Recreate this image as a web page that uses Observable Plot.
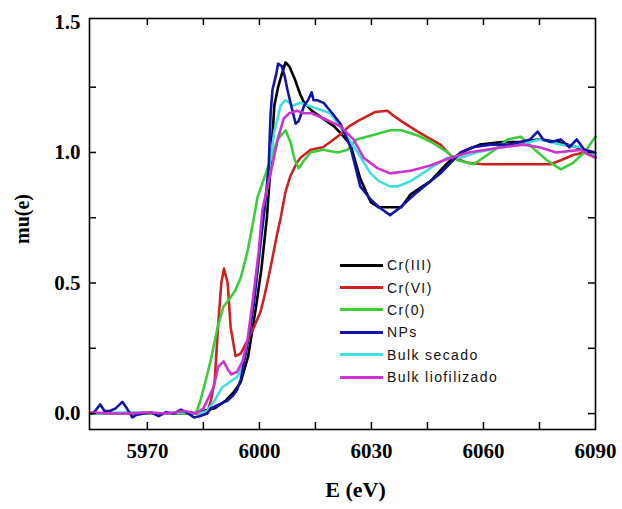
<!DOCTYPE html>
<html>
<head>
<meta charset="utf-8">
<script src="https://cdn.jsdelivr.net/npm/d3@7"></script>
<script src="https://cdn.jsdelivr.net/npm/@observablehq/plot@0.6"></script>
<style>
  html, body { margin: 0; padding: 0; background: #fff; }
  #wrap { position: relative; width: 622px; height: 509px; }
  #legend { position: absolute; left: 340px; top: 254px; font-family: "Liberation Sans", Arial, sans-serif; font-size: 14px; letter-spacing: 1.4px; color: #111; }
  #legend .row { height: 22.4px; display: flex; align-items: center; }
  #legend .sw { width: 43px; height: 3px; margin-right: 4px; }
</style>
</head>
<body>
<div id="wrap"><div id="legend"></div></div>
<script>
// ---- data ----
const seriesNames = ["Cr(III)", "Cr(VI)", "Cr(0)", "NPs", "Bulk secado", "Bulk liofilizado"];
const seriesColors = ["#000000", "#cc2222", "#3ccc3c", "#1414a8", "#40dede", "#cc33cc"];

const crIII_E  = [5955, 5965, 5975, 5982, 5985, 5988, 5991, 5993, 5995, 5997, 5999, 6000.5, 6002, 6003, 6004, 6005, 6006, 6007, 6008, 6009.5, 6011, 6012, 6014, 6017, 6020, 6022, 6024.4, 6027, 6029.8, 6032, 6038, 6040.5, 6045.8, 6050.4, 6054, 6059, 6065, 6070, 6075, 6080, 6085, 6090];
const crIII_mu = [0.0, 0.0, 0.0, 0.0, 0.01, 0.02, 0.05, 0.08, 0.12, 0.22, 0.4, 0.55, 0.75, 0.95, 1.18, 1.25, 1.3, 1.345, 1.33, 1.28, 1.22, 1.19, 1.16, 1.13, 1.1, 1.07, 1.03, 0.9, 0.81, 0.79, 0.79, 0.84, 0.89, 0.96, 1.0, 1.03, 1.04, 1.04, 1.05, 1.04, 1.02, 0.98];

const crVI_E  = [5955, 5970, 5980, 5986, 5987, 5988, 5989, 5989.8, 5990.5, 5991.5, 5992.3, 5993.6, 5995, 5996.8, 5998.5, 6000.3, 6001.5, 6003, 6004.5, 6005.7, 6007, 6008.3, 6010, 6011, 6013.7, 6017, 6019, 6021.7, 6024, 6026.3, 6029, 6031, 6034.3, 6036, 6038, 6042.4, 6046, 6048.5, 6050.4, 6052, 6055.8, 6060, 6070, 6078, 6080.7, 6084, 6087, 6090];
const crVI_mu = [0.0, 0.0, 0.0, 0.0, 0.05, 0.12, 0.35, 0.5, 0.555, 0.5, 0.33, 0.22, 0.23, 0.28, 0.33, 0.39, 0.46, 0.56, 0.67, 0.75, 0.85, 0.91, 0.96, 0.98, 1.01, 1.02, 1.04, 1.07, 1.1, 1.12, 1.14, 1.155, 1.16, 1.14, 1.12, 1.08, 1.05, 1.03, 1.0, 0.98, 0.96, 0.955, 0.955, 0.955, 0.97, 0.99, 1.0, 0.98];

const cr0_E  = [5955, 5970, 5980, 5983, 5984.2, 5985.5, 5986.9, 5988.8, 5990.4, 5992, 5993.5, 5995, 5996.8, 5998.4, 5999.5, 6001, 6002.2, 6004.9, 6007, 6008.3, 6009.5, 6010.5, 6012, 6013.7, 6017, 6021, 6023.6, 6026, 6030, 6035, 6038, 6042.4, 6046, 6050.4, 6053, 6057.4, 6062, 6066.5, 6070, 6073, 6077, 6080.7, 6084, 6087, 6090];
const cr0_mu = [0.0, 0.0, 0.0, 0.0, 0.05, 0.12, 0.2, 0.33, 0.41, 0.44, 0.47, 0.52, 0.62, 0.74, 0.83, 0.89, 0.94, 1.05, 1.085, 1.04, 0.97, 0.94, 0.97, 1.0, 1.01, 1.0, 1.01, 1.05, 1.065, 1.085, 1.085, 1.065, 1.04, 1.0, 0.97, 0.955, 1.0, 1.05, 1.06, 1.02, 0.97, 0.935, 0.96, 1.0, 1.06];

const nps_E  = [5955, 5956, 5957.4, 5958.5, 5960, 5961.5, 5963.3, 5964.5, 5966, 5967, 5969, 5971, 5973, 5975, 5977, 5979, 5981, 5982.5, 5984, 5986, 5987, 5988.5, 5990, 5991.5, 5993, 5994, 5995, 5997, 5998.5, 6000, 6001.5, 6002.5, 6003, 6003.5, 6004.5, 6005, 6006, 6006.8, 6007.5, 6008.5, 6009.7, 6010.5, 6012, 6013, 6014, 6014.5, 6015.5, 6017.2, 6019.5, 6021.7, 6024.4, 6027, 6029.8, 6032, 6035, 6037.8, 6040, 6042.4, 6045, 6048.5, 6051.2, 6053.9, 6057, 6062, 6067, 6070, 6072.5, 6074.5, 6076, 6078, 6080.7, 6083, 6085, 6087, 6090];
const nps_mu = [0.0, 0.01, 0.035, 0.01, 0.01, 0.02, 0.045, 0.02, -0.015, -0.005, 0.0, 0.005, -0.01, 0.005, 0.0, 0.015, 0.0, -0.015, -0.01, 0.0, 0.02, 0.03, 0.04, 0.05, 0.07, 0.09, 0.13, 0.28, 0.42, 0.62, 0.8, 0.95, 1.15, 1.24, 1.3, 1.34, 1.33, 1.29, 1.24, 1.18, 1.11, 1.12, 1.18, 1.2, 1.23, 1.2, 1.2, 1.19, 1.15, 1.11, 1.02, 0.87, 0.82, 0.79, 0.76, 0.79, 0.82, 0.85, 0.88, 0.92, 0.96, 1.0, 1.02, 1.03, 1.03, 1.04, 1.05, 1.08, 1.05, 1.04, 1.05, 1.02, 1.05, 1.01, 1.0];

const secado_E  = [5955, 5965, 5975, 5980, 5984, 5986, 5988, 5990, 5992, 5994, 5995.5, 5997, 5998.5, 6000, 6001.5, 6003, 6004, 6005.7, 6007, 6009, 6011, 6013, 6015, 6019, 6022.5, 6026.3, 6029.8, 6032, 6035, 6037, 6040.5, 6045.8, 6050.4, 6054, 6058, 6065, 6070, 6075, 6078, 6080.7, 6086, 6090];
const secado_mu = [0.0, 0.005, 0.0, 0.005, 0.0, 0.01, 0.05, 0.1, 0.12, 0.14, 0.18, 0.28, 0.42, 0.6, 0.8, 0.98, 1.08, 1.18, 1.2, 1.18, 1.19, 1.18, 1.17, 1.15, 1.08, 1.0, 0.92, 0.89, 0.87, 0.87, 0.89, 0.94, 0.98, 0.98, 1.0, 1.02, 1.03, 1.05, 1.04, 1.03, 1.02, 0.99];

const liof_E  = [5955, 5960, 5965, 5970, 5975, 5980, 5983, 5985, 5987.7, 5989, 5990.4, 5991.5, 5992.5, 5994, 5995.5, 5996.8, 5998.2, 5999.8, 6000.8, 6002, 6003, 6004.9, 6006.5, 6008, 6010, 6012, 6014, 6017.2, 6021.7, 6025.2, 6027.9, 6031.6, 6035, 6040.5, 6045.8, 6051.2, 6056, 6065, 6070.8, 6075, 6079.5, 6086, 6090];
const liof_mu = [0.005, 0.0, 0.0, 0.005, 0.0, 0.01, 0.0, 0.02, 0.1, 0.18, 0.2, 0.17, 0.15, 0.16, 0.2, 0.28, 0.43, 0.62, 0.78, 0.86, 0.92, 1.05, 1.13, 1.15, 1.16, 1.15, 1.15, 1.13, 1.1, 1.05, 0.98, 0.94, 0.92, 0.93, 0.95, 0.98, 1.0, 1.02, 1.03, 1.02, 1.0, 1.01, 0.98];

const xMajorTicks = [5970, 6000, 6030, 6060, 6090];
const xAllTicks = [5970, 5985, 6000, 6015, 6030, 6045, 6060, 6075];
const yMajorTicks = [0.0, 0.5, 1.0, 1.5];
const yAllTicks = [0.0, 0.25, 0.5, 0.75, 1.0, 1.25];
const xLabel = "E (eV)";
const yLabel = "mu(e)";

// ---- build table ----
const seriesX = [crIII_E, crVI_E, cr0_E, nps_E, secado_E, liof_E];
const seriesY = [crIII_mu, crVI_mu, cr0_mu, nps_mu, secado_mu, liof_mu];
const drawOrder = [0, 1, 2, 4, 3, 5];
const rows = [];
for (const i of drawOrder) {
  seriesX[i].forEach((e, j) => rows.push({E: e, mu: seriesY[i][j], s: seriesNames[i]}));
}

const W = 622, H = 509;
const mTop = 18, mBottom = 80, mLeft = 89, mRight = 27;
const innerW = W - mLeft - mRight, innerH = H - mTop - mBottom;
const xDom = [5954.5, 6090], yDom = [-0.061, 1.513];
const serif = "'Liberation Serif', 'Times New Roman', serif";
const tickLen = 7;
// tick length expressed in data units of each scale
const tx = tickLen * (xDom[1] - xDom[0]) / innerW;
const ty = tickLen * (yDom[1] - yDom[0]) / innerH;
const tickMarkStyle = {stroke: "#000", strokeWidth: 1.5};

const chart = Plot.plot({
  width: W, height: H,
  marginTop: mTop, marginBottom: mBottom, marginLeft: mLeft, marginRight: mRight,
  style: {fontFamily: serif, fontWeight: "bold", fontSize: "21px", background: "#fff", color: "#000"},
  x: {domain: xDom},
  y: {domain: yDom},
  color: {domain: seriesNames, range: seriesColors},
  marks: [
    Plot.line(rows, {x: "E", y: "mu", z: "s", stroke: "s", strokeWidth: 2.6, strokeLinejoin: "round"}),
    // inward ticks (bottom, top, left, right)
    Plot.ruleX(xAllTicks, {x: d => d, y1: yDom[0], y2: yDom[0] + ty, ...tickMarkStyle}),
    Plot.ruleX(xAllTicks, {x: d => d, y1: yDom[1], y2: yDom[1] - ty, ...tickMarkStyle}),
    Plot.ruleY(yAllTicks, {y: d => d, x1: xDom[0], x2: xDom[0] + tx, ...tickMarkStyle}),
    Plot.ruleY(yAllTicks, {y: d => d, x1: xDom[1], x2: xDom[1] - tx, ...tickMarkStyle}),
    Plot.axisX({anchor: "bottom", ticks: xMajorTicks, tickSize: 0, tickPadding: 14, tickFormat: d => String(d), label: null, fontSize: 21, fontWeight: "bold"}),
    Plot.axisY({anchor: "left", ticks: yMajorTicks, tickSize: 0, tickPadding: 9, tickFormat: d3.format(".1f"), label: null, fontSize: 21, fontWeight: "bold"}),
    Plot.frame({stroke: "#000", strokeWidth: 1.6}),
    Plot.text([xLabel], {text: d => d, frameAnchor: "bottom", dy: 67, dx: 13, fontSize: 22, fontWeight: "bold"}),
    Plot.text([yLabel], {text: d => d, frameAnchor: "left", dx: -67, dy: 20, rotate: -90, fontSize: 20, fontWeight: "bold"})
  ]
});
document.getElementById("wrap").prepend(chart);

// legend (HTML overlay)
const leg = document.getElementById("legend");
seriesNames.forEach((name, i) => {
  const row = document.createElement("div");
  row.className = "row";
  const sw = document.createElement("span");
  sw.className = "sw";
  sw.style.background = seriesColors[i];
  const t = document.createElement("span");
  t.textContent = name;
  row.appendChild(sw); row.appendChild(t);
  leg.appendChild(row);
});
</script>
</body>
</html>
